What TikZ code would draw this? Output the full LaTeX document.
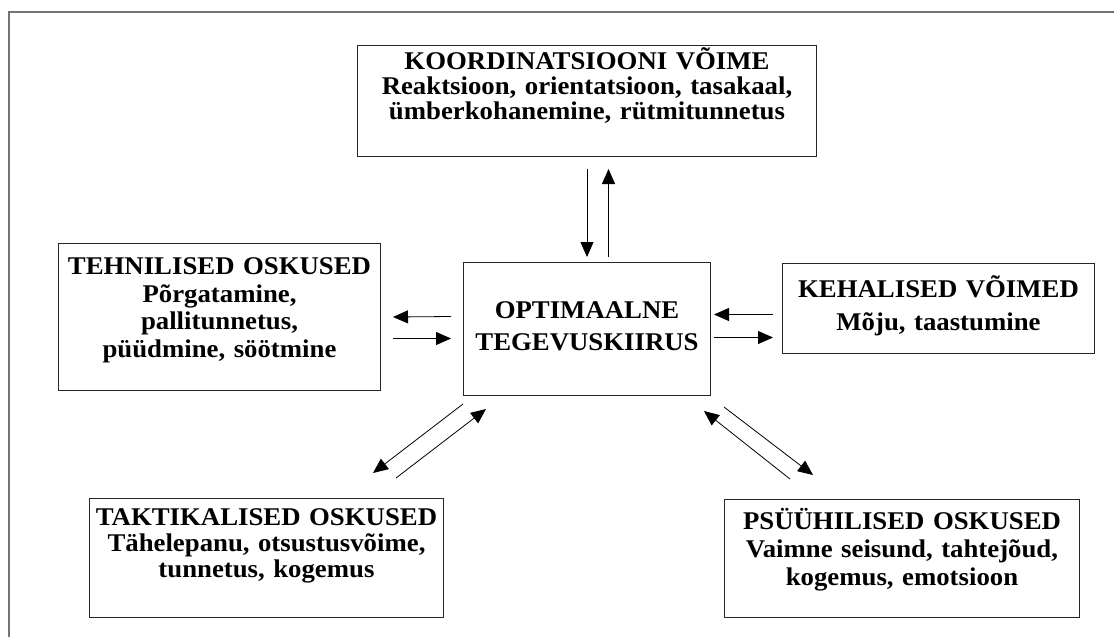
\documentclass[tikz,border=0pt]{standalone}
\usepackage{fontspec}
\setmainfont{Liberation Serif}[FakeStretch=1.05]
\usetikzlibrary{arrows.meta}

\tikzset{
	skillbox/.style={draw=black!85, line width=1pt, inner sep=0pt, anchor=north west,
		align=center, font=\bfseries\fontsize{25.5}{25}\selectfont},
	arr/.style={-{Triangle[length=15pt,width=13pt]}, line width=0.8pt},
}

\begin{document}
\begin{tikzpicture}[x=1pt, y=-1pt]
	\useasboundingbox (0,0) rectangle (1114,637);
	\draw [black!55, line width=1.6pt] (9,640) -- (9,12) -- (1120,12);

	% boxes
	\node [skillbox, text width=459pt, text height=24pt, text depth=87pt] (koord) at (357,45)
		{KOORDINATSIOONI VÕIME\\ Reaktsioon, orientatsioon, tasakaal,\\ ümberkohanemine, rütmitunnetus};
	\node [skillbox, text width=247pt, text height=56pt, text depth=77pt,
		font=\bfseries\fontsize{25.5}{32}\selectfont] (opt) at (463,262)
		{OPTIMAALNE\\ TEGEVUSKIIRUS};
	\node [skillbox, text width=322pt, text height=31pt, text depth=116pt,
		font=\bfseries\fontsize{25.5}{27.5}\selectfont] (tehn) at (58,243)
		{TEHNILISED OSKUSED\\ Põrgatamine,\\ pallitunnetus,\\ püüdmine, söötmine};
	\node [skillbox, text width=312pt, text height=34pt, text depth=56pt,
		font=\bfseries\fontsize{25.5}{33}\selectfont] (keh) at (782,263)
		{KEHALISED VÕIMED\\ Mõju, taastumine};
	\node [skillbox, text width=354pt, text height=27pt, text depth=92pt,
		font=\bfseries\fontsize{25.5}{26}\selectfont] (takt) at (89,498)
		{TAKTIKALISED OSKUSED\\ Tähelepanu, otsustusvõime,\\ tunnetus, kogemus};
	\node [skillbox, text width=355pt, text height=30pt, text depth=88pt,
		font=\bfseries\fontsize{25.5}{28}\selectfont] (psy) at (724,499)
		{PSÜÜHILISED OSKUSED\\ Vaimne seisund, tahtejõud,\\ kogemus, emotsioon};

	% arrows
	\draw [arr] ([yshift=-12pt]koord.south) -- ([yshift=5pt]opt.north);
	\draw [arr] ([xshift=21.5pt,yshift=5pt]opt.north) -- ([xshift=21.5pt,yshift=-12pt]koord.south);

	\draw [arr] ([xshift=-12pt,yshift=12.5pt]opt.west) -- ([xshift=12pt]tehn.east);
	\draw [arr] ([xshift=12pt,yshift=-21.5pt]tehn.east) -- ([xshift=-12pt,yshift=-9.5pt]opt.west);

	\draw [arr] ([xshift=-9pt,yshift=-6pt]keh.west) -- ([xshift=3pt,yshift=14.5pt]opt.east);
	\draw [arr] ([xshift=3pt,yshift=-8.5pt]opt.east) -- ([xshift=-9pt,yshift=-29pt]keh.west);

	\draw [arr] ([yshift=-8pt]opt.south west) -- ([xshift=284pt,yshift=25pt]takt.north west);
	\draw [arr] ([xshift=307pt,yshift=20pt]takt.north west) -- ([xshift=23pt,yshift=-13pt]opt.south west);

	\draw [arr] ([xshift=66pt,yshift=20pt]psy.north west) -- ([xshift=-7pt,yshift=-15pt]opt.south east);
	\draw [arr] ([xshift=13pt,yshift=-11pt]opt.south east) -- ([xshift=89pt,yshift=24pt]psy.north west);
\end{tikzpicture}
\end{document}
